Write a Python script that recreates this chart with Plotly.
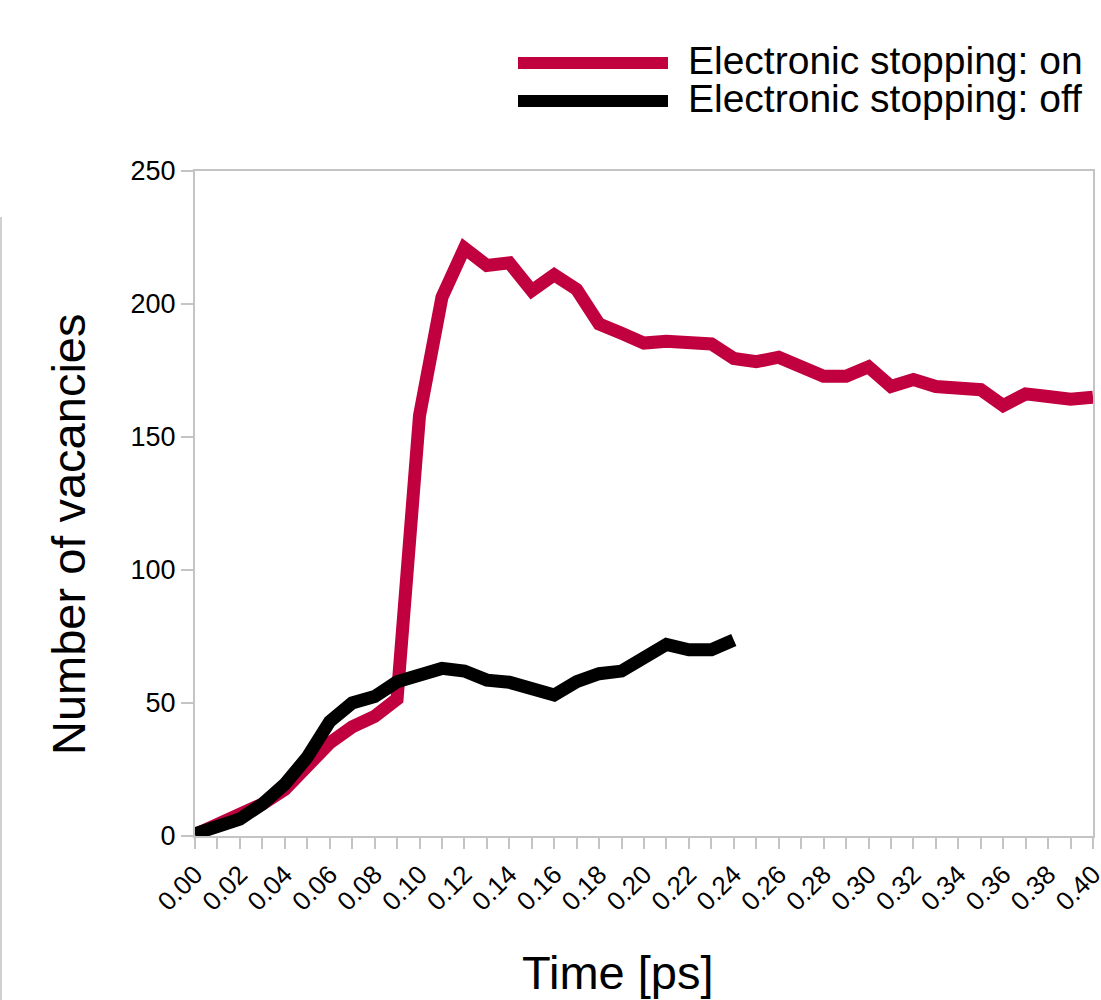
import plotly.graph_objects as go

# ---- data ----
time_on = [0.00, 0.01, 0.02, 0.03, 0.04, 0.05, 0.06, 0.07, 0.08, 0.09,
           0.10, 0.11, 0.12, 0.13, 0.14, 0.15, 0.16, 0.17, 0.18, 0.19,
           0.20, 0.21, 0.22, 0.23, 0.24, 0.25, 0.26, 0.27, 0.28, 0.29,
           0.30, 0.31, 0.32, 0.33, 0.34, 0.35, 0.36, 0.37, 0.38, 0.39, 0.40]
vac_on = [0.5, 4, 8, 12, 17.5, 27, 35, 41, 45, 51.5,
          158, 202.5, 221, 214.5, 215.5, 205, 211, 205.5, 192.5, 189,
          185.3, 186, 185, 185, 179.5, 178.3, 180, 176.5, 172.8, 172.8,
          176.4, 169, 171.6, 169, 169, 167.8, 161.8, 166.2, 165.2, 164.2, 165]

time_off = [0.00, 0.01, 0.02, 0.03, 0.04, 0.05, 0.06, 0.07, 0.08, 0.09,
            0.10, 0.11, 0.12, 0.13, 0.14, 0.15, 0.16, 0.17, 0.18, 0.19,
            0.20, 0.21, 0.22, 0.23, 0.24]
vac_off = [0.8, 3.3, 6.4, 12, 19.5, 29.6, 43, 50, 52.4, 58,
           60.3, 63, 62, 58.6, 57.8, 55.9, 53, 58, 61, 62,
           67, 72, 70, 70, 73.7]

series_names = ["Electronic stopping: on", "Electronic stopping: off"]
series_colors = ["#C0003F", "#000000"]

x_tick_vals = time_on
x_tick_text = ["0.00", "", "0.02", "", "0.04", "", "0.06", "", "0.08", "",
               "0.10", "", "0.12", "", "0.14", "", "0.16", "", "0.18", "",
               "0.20", "", "0.22", "", "0.24", "", "0.26", "", "0.28", "",
               "0.30", "", "0.32", "", "0.34", "", "0.36", "", "0.38", "", "0.40"]
y_tick_vals = [0, 50, 100, 150, 200, 250]

x_title = "Time [ps]"
y_title = "Number of vacancies"

# ---- figure ----
W, H = 1101, 1000
L, R, T, B = 195, 8, 171, 164
pw, ph = W - L - R, H - T - B


def px_x(p):
    return (p - L) / pw


def px_y(p):
    return (H - B - p) / ph


FONT = "Liberation Sans, Arial, sans-serif"
AXC = "#c4c4c4"

fig = go.Figure()
fig.add_trace(go.Scatter(x=time_on, y=vac_on, mode="lines", name=series_names[0],
                         line=dict(color=series_colors[0], width=13), showlegend=False))
fig.add_trace(go.Scatter(x=time_off, y=vac_off, mode="lines", name=series_names[1],
                         line=dict(color=series_colors[1], width=13), showlegend=False))

fig.update_layout(
    width=W, height=H,
    autosize=False,
    margin=dict(l=L, r=R, t=T, b=B, pad=0, autoexpand=False),
    paper_bgcolor="white", plot_bgcolor="white",
    font=dict(family=FONT, color="#000000"),
    xaxis=dict(range=[0, 0.40], tickmode="array", tickvals=x_tick_vals, ticktext=x_tick_text,
               tickangle=-45, tickfont=dict(size=26, family=FONT, color="#000"),
               ticklabeloverflow="allow", automargin=False,
               ticks="outside", ticklen=11, tickwidth=2, tickcolor=AXC,
               showline=True, linecolor=AXC, linewidth=2, mirror=True,
               showgrid=False, zeroline=False),
    yaxis=dict(range=[0, 250], tickmode="array", tickvals=y_tick_vals,
               tickfont=dict(size=27, family=FONT, color="#000"),
               automargin=False,
               ticks="outside", ticklen=12, tickwidth=2, tickcolor=AXC,
               showline=True, linecolor=AXC, linewidth=2, mirror=True,
               showgrid=False, zeroline=False),
)

# axis titles
fig.add_annotation(text=y_title, xref="paper", yref="paper", x=px_x(68), y=px_y(535),
                   textangle=-90, showarrow=False, xanchor="center", yanchor="middle",
                   font=dict(size=47, family=FONT, color="#000"))
fig.add_annotation(text=x_title, xref="paper", yref="paper", x=px_x(618), y=px_y(972),
                   showarrow=False, xanchor="center", yanchor="middle",
                   font=dict(size=47, family=FONT, color="#000"))

# manual legend (long line samples)
legend_rows = [63, 101]
for name, color, ly in zip(series_names, series_colors, legend_rows):
    fig.add_shape(type="line", xref="paper", yref="paper",
                  x0=px_x(518), x1=px_x(668), y0=px_y(ly), y1=px_y(ly),
                  line=dict(color=color, width=12))
    fig.add_annotation(text=name, xref="paper", yref="paper", x=px_x(686), y=px_y(ly - 2),
                       showarrow=False, xanchor="left", yanchor="middle",
                       font=dict(size=39, family=FONT, color="#000"))

# faint frame line at far left edge
fig.add_shape(type="line", xref="paper", yref="paper",
              x0=px_x(1), x1=px_x(1), y0=px_y(217), y1=px_y(1000),
              line=dict(color="#d0d0d0", width=2))

fig.write_html(
    "out.html", config={"displayModeBar": False},
    post_script=("document.documentElement.style.margin='0px';"
                 "document.documentElement.style.overflow='hidden';"
                 "document.body.style.margin='0px';"
                 "document.body.style.padding='0px';"
                 "document.body.style.overflow='hidden';"))
